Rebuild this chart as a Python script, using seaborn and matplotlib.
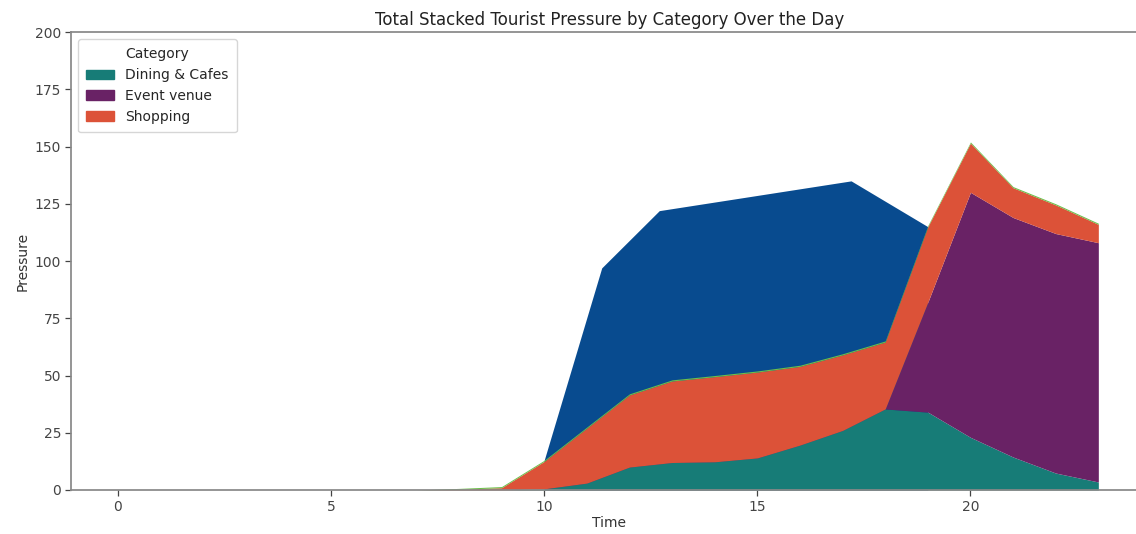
import matplotlib
matplotlib.use("Agg")
import matplotlib.pyplot as plt
import seaborn as sns
import numpy as np
from matplotlib.patches import FancyBboxPatch, Patch

# ---- data ----
hours = list(range(24))
dining = [0, 0, 0, 0, 0, 0, 0, 0, 0, 0, 0.5, 3, 10, 12, 12.3, 14, 19.6, 26, 35.4, 34, 23, 14.4, 7.4, 3.5]
event = [0, 0, 0, 0, 0, 0, 0, 0, 0, 0, 0, 0, 0, 0, 0, 0, 0, 0, 0, 48, 107, 104.6, 104.6, 104.5]
shopping = [0, 0, 0, 0, 0, 0, 0, 0, 0.3, 1, 12, 24, 31.5, 35.6, 37.2, 37.5, 34.4, 33, 29.2, 33, 21.5, 13, 12.5, 8]
other = [0, 0, 0, 0, 0, 0, 0, 0, 0.4, 0.5, 0.5, 0.5, 0.5, 0.5, 0.5, 0.5, 0.5, 0.5, 0.5, 0.5, 0.5, 0.5, 0.5, 0.5]

# blue layer (total level) sampled at its own time points
landmark_time = [10, 11.35, 12.7, 17.2, 19]
landmark_total = [13, 97, 122, 135, 115]

categories = ["Dining & Cafes", "Event venue", "Shopping"]
colors = ["#177c77", "#692265", "#dc5238"]
green = "#6cbf4a"
blue = "#084b8f"

sns.set_theme(style="ticks")
plt.rcParams["font.family"] = ["DejaVu Sans"]

fig = plt.figure(figsize=(11.36, 5.34), dpi=100)
ax = fig.add_axes([0.0625, 0.0824, 0.9475, 0.8576])

ax.fill_between(landmark_time, 0, landmark_total, color=blue, linewidth=0)
ax.stackplot(hours, dining, event, shopping, other,
             colors=colors + [green], linewidth=0)

ax.set_xlim(-1.1, 24.15)
ax.set_ylim(0, 200)
ax.set_yticks(np.arange(0, 201, 25))
ax.set_xticks([0, 5, 10, 15, 20])
ax.tick_params(labelsize=10, colors="#444444", length=4, width=0.9, pad=3)
for s in ax.spines.values():
    s.set_color("#888888")

ax.set_title("Total Stacked Tourist Pressure by Category Over the Day", fontsize=12, color="#222222", pad=5)
ax.set_xlabel("Time", fontsize=10, color="#333333", labelpad=2)
ax.set_ylabel("Pressure", fontsize=10, color="#333333", labelpad=4)

handles = [Patch(facecolor=c, edgecolor=c, label=l) for c, l in zip(colors, categories)]
ax.legend(handles=handles, title="Category", loc="upper left", fontsize=10,
          title_fontsize=10, frameon=True, borderpad=0.6)

fig.savefig("out.png", dpi=100)
